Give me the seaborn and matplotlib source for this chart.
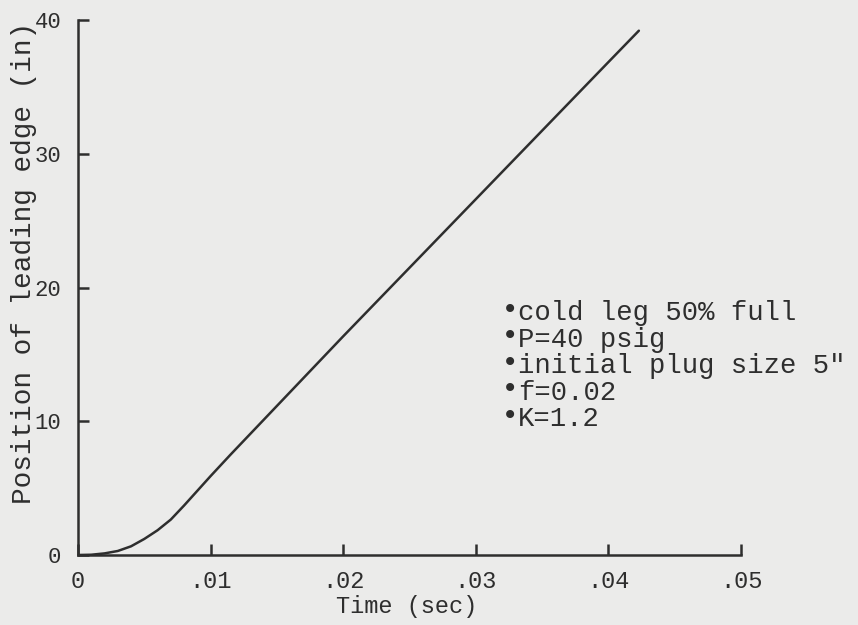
import matplotlib
matplotlib.use("Agg")
import matplotlib.pyplot as plt
import seaborn as sns
import pandas as pd

time_s = [0.0, 0.001, 0.002, 0.003, 0.004, 0.005, 0.006, 0.007, 0.008, 0.009, 0.010, 0.0115, 0.020, 0.030, 0.040, 0.0423]
position_in = [0.0, 0.02, 0.12, 0.3, 0.65, 1.2, 1.85, 2.65, 3.7, 4.8, 5.9, 7.5, 16.35, 26.6, 36.85, 39.2]
x_ticks = [0, 0.01, 0.02, 0.03, 0.04, 0.05]
x_tick_labels = ["0", ".01", ".02", ".03", ".04", ".05"]
y_ticks = [0, 10, 20, 30, 40]
y_tick_labels = ["0", "10", "20", "30", "40"]
notes = ["cold leg 50% full", "P=40 psig", "initial plug size 5\"", "f=0.02", "K=1.2"]

df = pd.DataFrame({"Time (sec)": time_s, "Position": position_in})

sns.set_style("ticks")
plt.rcParams["font.family"] = ["Liberation Mono", "DejaVu Sans Mono"]
ink = "#2e2e2e"
bg = "#ebebea"

fig = plt.figure(figsize=(8.58, 6.25), dpi=100, facecolor=bg)
ax = fig.add_axes([0.0909, 0.112, 0.7727, 0.856])
ax.set_facecolor(bg)

sns.lineplot(data=df, x="Time (sec)", y="Position", ax=ax, color=ink, linewidth=1.8, estimator=None, sort=False)

ax.set_xlim(0, 0.05)
ax.set_ylim(0, 40)
ax.set_xticks(x_ticks)
ax.set_xticklabels(x_tick_labels)
ax.set_yticks(y_ticks)
ax.set_yticklabels(y_tick_labels)
ax.tick_params(axis="both", direction="in", length=8, width=1.8, color=ink, labelcolor=ink)
ax.tick_params(axis="x", pad=11, labelsize=17)
ax.tick_params(axis="y", pad=12, labelsize=16)
for s in ["top", "right"]:
    ax.spines[s].set_visible(False)
for s in ["left", "bottom"]:
    ax.spines[s].set_linewidth(1.8)
    ax.spines[s].set_color(ink)

ax.set_xlabel("Time (sec)", fontsize=17, color=ink)
ax.xaxis.set_label_coords(0.495, -0.075)
ax.set_ylabel("Position of leading edge (in)", fontsize=20, color=ink)
ax.yaxis.set_label_coords(-0.062, 0.545)

y0 = 0.452
dy = 0.0495
for i, t in enumerate(notes):
    yy = y0 - i * dy
    ax.text(0.640, yy + 0.006, "\u2022", transform=ax.transAxes, fontsize=20, color=ink, va="center", ha="left", family="DejaVu Sans")
    ax.text(0.664, yy, t, transform=ax.transAxes, fontsize=19.6, color=ink, va="center", ha="left")

fig.savefig("out.png", dpi=100, facecolor=bg)
